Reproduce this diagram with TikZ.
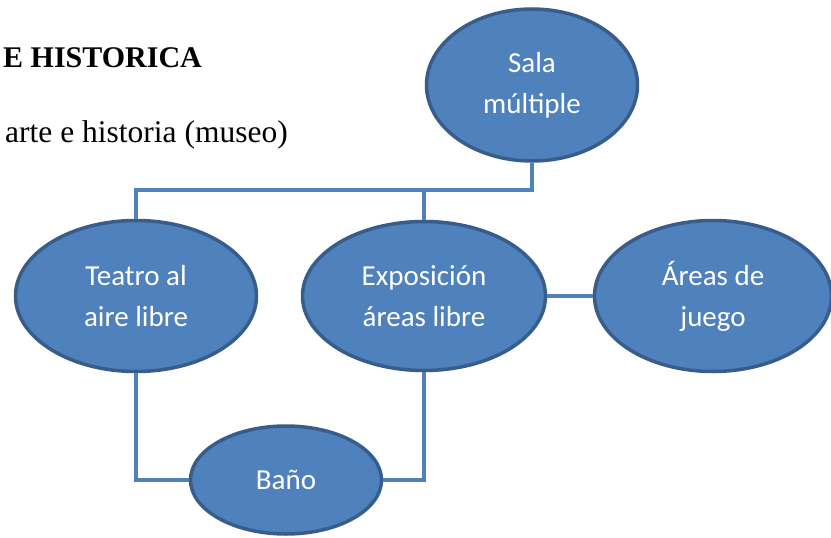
\documentclass[tikz,border=0pt]{standalone}
\usepackage{fontspec}
\setmainfont{Liberation Serif}
\newfontfamily\carlito{Carlito}
\usetikzlibrary{shapes.geometric}
\definecolor{fillblue}{HTML}{4F81BD}
\definecolor{edgeblue}{HTML}{385D8A}
\tikzset{
  room/.style={ellipse, draw=edgeblue, fill=fillblue, line width=3.5pt, inner sep=0pt,
    text=white, align=center, font=\carlito\fontsize{29}{41}\selectfont},
  link/.style={draw=fillblue, line width=3.5pt}
}
\begin{document}
\begin{tikzpicture}[x=1pt,y=-1pt]
\useasboundingbox (0,0) rectangle (831,538);
\clip (0,0) rectangle (831,538);

% draw heading text
\node[anchor=base west, inner sep=0pt, font=\bfseries\fontsize{30}{36}\selectfont] (title) at (3,67) {E HISTORICA};
\node[anchor=base west, inner sep=0pt, font=\fontsize{31.5}{36}\selectfont] (subtitle) at (5,142) {arte e historia (museo)};

% draw rooms
\node[room, minimum width=211pt, minimum height=152pt] (sala) at (532,85) {Sala\\múltiple};
\node[room, minimum width=241pt, minimum height=151pt] (teatro) at (136,296) {Teatro al\\aire libre};
\node[room, minimum width=243pt, minimum height=149pt] (expo) at (424,296) {Exposición\\áreas libre};
\node[room, minimum width=237pt, minimum height=151pt] (areas) at (713,296) {Áreas de\\juego};
\node[room, minimum width=191pt, minimum height=108pt] (bano) at (286,480) {Baño};

% draw links
\coordinate (bus) at (0,190);
\draw[link] (sala.south) -- (sala.south |- bus) -- (teatro.north |- bus) -- (teatro.north);
\draw[link] (expo.north |- bus) -- (expo.north);
\draw[link] (expo.east) -- (areas.west);
\draw[link] (teatro.south) |- (bano.west);
\draw[link] (expo.south) |- (bano.east);
\end{tikzpicture}
\end{document}
